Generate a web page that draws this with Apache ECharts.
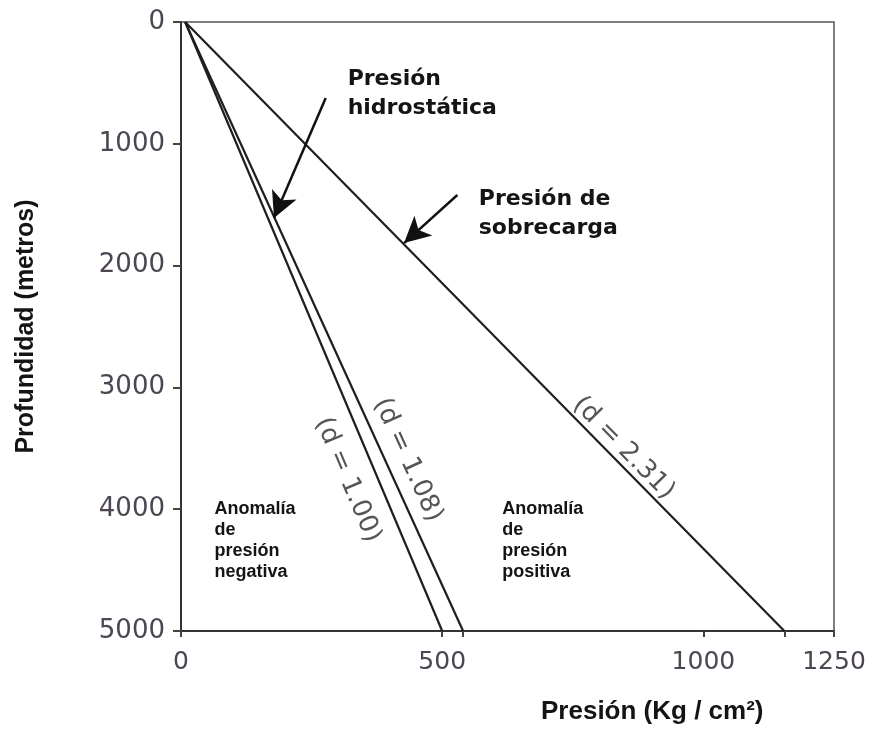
<!DOCTYPE html>
<html>
<head>
<meta charset="UTF-8">
<title>Presión vs profundidad</title>
<script src="https://cdn.jsdelivr.net/npm/echarts@6/dist/echarts.min.js"></script>
<style>
  html, body { margin: 0; padding: 0; background: #fff; }
  #chart { width: 874px; height: 729px; }
</style>
</head>
<body>
<div id="chart"></div>
<script>
// datos
var profundidad = [0, 5000];              // metros
var presionD100 = [8, 500];               // d = 1.00
var presionD108 = [8, 540];               // d = 1.08
var presionD231 = [8, 1155];              // d = 2.31
var ticksX = [0, 500, 540, 1000, 1155, 1250];
var etiquetasX = [0, 500, 1000, 1250];

function pares(xs, ys) {
  var out = [];
  for (var i = 0; i < xs.length; i++) out.push([xs[i], ys[i]]);
  return out;
}

var chart = echarts.init(document.getElementById('chart'));
var gris = '#4d4652';
var linea = { color: '#1e1e1e', width: 2.2 };
var sinComa = function (v) { return String(v); };

var option = {
  animation: false,
  title: {
    text: 'Presión (Kg / cm²)',
    left: 536, top: 694,
    textStyle: { fontFamily: 'Liberation Sans', fontWeight: 'bold', fontSize: 26, color: '#141414' }
  },
  grid: {
    left: 181, top: 22, right: 40, bottom: 98,
    outerBoundsMode: 'none', containLabel: false,
    show: true, borderColor: '#555', borderWidth: 1.5
  },
  xAxis: {
    type: 'value', min: 0, max: 1250,
    splitLine: { show: false },
    axisLine: { onZero: false, lineStyle: { color: '#333', width: 2 } },
    axisTick: { show: true, length: 6, customValues: ticksX, lineStyle: { color: '#444', width: 2 } },
    axisLabel: {
      customValues: etiquetasX, margin: 19, color: gris, formatter: sinComa,
      fontFamily: 'DejaVu Sans', fontSize: 25
    }
  },
  yAxis: {
    type: 'value', min: 0, max: 5000, interval: 1000, inverse: true,
    name: 'Profundidad (metros)', nameLocation: 'middle', nameGap: 142, nameRotate: 90,
    nameTextStyle: { fontFamily: 'Liberation Sans', fontWeight: 'bold', fontSize: 25, color: '#141414' },
    splitLine: { show: false },
    axisLine: { onZero: false, lineStyle: { color: '#333', width: 2 } },
    axisTick: { length: 8, lineStyle: { color: '#444', width: 2 } },
    axisLabel: { margin: 16, color: gris, formatter: sinComa, fontFamily: 'DejaVu Sans', fontSize: 26 }
  },
  series: [
    { name: 'd100', type: 'line', data: pares(presionD100, profundidad), symbol: 'none', lineStyle: linea },
    { name: 'd108', type: 'line', data: pares(presionD108, profundidad), symbol: 'none', lineStyle: linea },
    { name: 'd231', type: 'line', data: pares(presionD231, profundidad), symbol: 'none', lineStyle: linea },
    {
      name: 'flechas', type: 'line', data: [], symbol: 'none',
      markLine: {
        silent: true, animation: false,
        symbol: ['none', 'arrow'], symbolSize: [20, 26],
        label: { show: false },
        lineStyle: { color: '#111', width: 2.5, type: 'solid' },
        data: [
          [{ coord: [277, 624] }, { coord: [178, 1610] }],
          [{ coord: [529, 1420] }, { coord: [427, 1815] }]
        ]
      }
    }
  ]
};
chart.setOption(option);

// anotaciones en coordenadas de datos
function px(x, y) { return chart.convertToPixel({ gridIndex: 0 }, [x, y]); }
function angulo(xs) {
  var a = px(xs[0], profundidad[0]), b = px(xs[1], profundidad[1]);
  return -Math.atan2(b[1] - a[1], b[0] - a[0]);
}
function rotulo(texto, pos, xs) {
  var p = px(pos[0], pos[1]);
  return {
    type: 'text', x: p[0], y: p[1], rotation: angulo(xs),
    style: { text: texto, fill: '#555', font: '26px "DejaVu Sans"', align: 'center', verticalAlign: 'middle' }
  };
}
function bloque(texto, pos, font, lh) {
  var p = px(pos[0], pos[1]);
  return {
    type: 'text', x: p[0], y: p[1],
    style: { text: texto, fill: '#141414', font: font, lineHeight: lh, align: 'left', verticalAlign: 'top' }
  };
}

chart.setOption({
  graphic: [
    rotulo('(d = 1.00)', [319, 3760], presionD100),
    rotulo('(d = 1.08)', [434, 3596], presionD108),
    rotulo('(d = 2.31)', [847, 3498], presionD231),
    bloque('Presión\nhidrostática', [319, 350], 'bold 22px "DejaVu Sans"', 29),
    bloque('Presión de\nsobrecarga', [570, 1340], 'bold 22px "DejaVu Sans"', 29),
    bloque('Anomalía\nde\npresión\nnegativa', [64, 3910], 'bold 18px "Liberation Sans"', 21),
    bloque('Anomalía\nde\npresión\npositiva', [615, 3910], 'bold 18px "Liberation Sans"', 21)
  ]
});
</script>
</body>
</html>
